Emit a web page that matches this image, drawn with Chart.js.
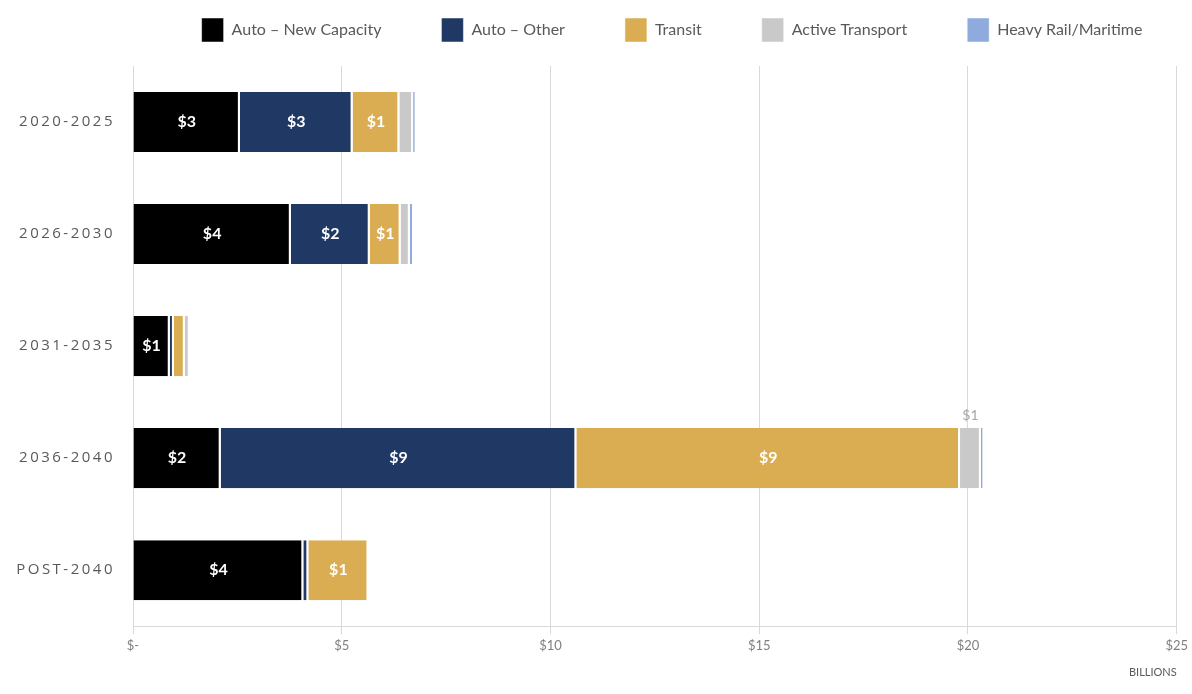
<!DOCTYPE html>
<html>
<head>
<meta charset="utf-8">
<script src="https://cdn.jsdelivr.net/npm/chart.js@4.4.1/dist/chart.umd.min.js"></script>
<style>
  html, body { margin: 0; padding: 0; background: #ffffff; }
  #wrap { width: 1192px; height: 694px; }
</style>
</head>
<body>
<div id="wrap"><canvas id="barChart"></canvas></div>
<script>
// Investment by period, billions of dollars
const periods = ["2020-2025", "2026-2030", "2031-2035", "2036-2040", "POST-2040"];
const autoNewCapacity = [2.56, 3.78, 0.88, 2.10, 4.08];
const autoOther = [2.70, 1.89, 0.10, 8.52, 0.12];
const transit = [1.12, 0.74, 0.26, 9.19, 1.44];
const activeTransport = [0.33, 0.22, 0.12, 0.50, 0];
const heavyRail = [0.07, 0.10, 0, 0.07, 0];
const xTickLabels = ["$-", "$5", "$10", "$15", "$20", "$25"];

// white "$n" labels inside the segments, grey above when the segment is too thin
const segmentLabels = {
  id: "segmentLabels",
  afterDatasetsDraw(chart) {
    const ctx = chart.ctx;
    ctx.save();
    ctx.textAlign = "center";
    chart.data.datasets.forEach((ds, i) => {
      chart.getDatasetMeta(i).data.forEach((bar, j) => {
        const v = Math.round(ds.data[j]);
        if (v < 1) return;
        const cx = (bar.x + bar.base) / 2;
        if (bar.x - bar.base > 24) {
          ctx.font = "bold 16px Lato";
          ctx.fillStyle = "#ffffff";
          ctx.textBaseline = "middle";
          ctx.fillText("$" + v, cx, bar.y);
        } else {
          ctx.font = "14px Lato";
          ctx.fillStyle = "#a6a6a6";
          ctx.textBaseline = "bottom";
          ctx.fillText("$" + v, cx, bar.y - bar.height / 2 - 6);
        }
      });
    });
    ctx.restore();
  },
};

// the legend sits a bit right of centre and close to the top
const moveLegend = {
  id: "moveLegend",
  afterLayout(chart) {
    const l = chart.legend;
    l.top -= 14;
    l.bottom -= 14;
    l.left += 78;
    l.right += 78;
  },
};

function serie(label, data, color) {
  return {
    label: label,
    data: data,
    backgroundColor: color,
    borderColor: "#ffffff",
    borderWidth: { top: 0, right: 2, bottom: 0, left: 0 },
    borderSkipped: false,
    categoryPercentage: 1,
    barPercentage: 0.536,
  };
}

new Chart(document.getElementById("barChart"), {
  type: "bar",

  data: {
    labels: periods,
    datasets: [
      serie("Auto \u2013 New Capacity", autoNewCapacity, "#000000"),
      serie("Auto \u2013 Other", autoOther, "#203864"),
      serie("Transit", transit, "#daad52"),
      serie("Active Transport", activeTransport, "#c9c9c9"),
      serie("Heavy Rail/Maritime", heavyRail, "#8faadc"),
    ],
  },

  options: {
    indexAxis: "y",
    responsive: true,
    maintainAspectRatio: false,
    animation: false,

    layout: {
      padding: { top: -28, right: 4, bottom: 15, left: 0 },
    },

    plugins: {
      legend: {
        position: "top",
        labels: {
          color: "#595959",
          font: { family: "Lato", size: 16 },
          boxWidth: 22,
          boxHeight: 24,
          padding: 60,
        },
      },
      tooltip: { enabled: false },
    },

    scales: {
      x: {
        stacked: true,
        min: 0,
        max: 25,
        grid: {
          color: "#d9d9d9",
          tickLength: 8,
        },
        border: { color: "#d9d9d9" },
        ticks: {
          stepSize: 5,
          padding: 4,
          color: "#7f7f7f",
          font: { family: "Lato", size: 13 },
          callback: function (value, index) {
            return xTickLabels[index];
          },
        },
        title: {
          display: true,
          text: "BILLIONS",
          align: "end",
          color: "#595959",
          font: { family: "Lato", size: 11 },
          padding: { top: 8, bottom: 0 },
        },
      },

      y: {
        stacked: true,
        grid: { display: false, drawTicks: false },
        border: { color: "#d9d9d9" },
        ticks: {
          padding: 18,
          color: "#595959",
          font: { family: "Open Sans", size: 15 },
        },
        afterFit: function (scale) {
          scale.width = 133;
          if (!scale.spaced) {
            const draw = scale.drawLabels;
            scale.drawLabels = function (area) {
              this.ctx.save();
              this.ctx.letterSpacing = "2.5px";
              draw.call(this, area);
              this.ctx.restore();
            };
            scale.spaced = true;
          }
        },
      },
    },
  },

  plugins: [segmentLabels, moveLegend],
});
</script>
</body>
</html>
